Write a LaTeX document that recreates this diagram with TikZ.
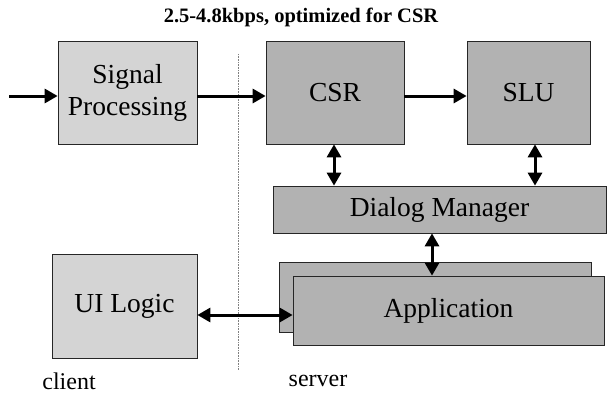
\documentclass[tikz,border=0pt]{standalone}
\usepackage{fontspec}
\setmainfont{Liberation Serif}
\usetikzlibrary{arrows.meta, positioning}

\begin{document}
\begin{tikzpicture}[x=1pt, y=-1pt, >={Triangle[length=13pt,width=14pt]},
    box/.style={draw=black!85, line width=0.7pt, rectangle, inner sep=0pt, align=center, font=\fontsize{27.5}{32}\selectfont},
    light/.style={box, fill=black!17},
    dark/.style={box, fill=black!30},
    flow/.style={->, line width=3pt},
    link/.style={<->, line width=3pt}]
    \useasboundingbox (0,0) rectangle (607,396);

    % title
    \node[font=\bfseries\fontsize{20.5}{22}\selectfont] (title) at (301,17) {2.5-4.8kbps, optimized for CSR};

    % client / server split
    \coordinate (splittop) at (238,54);
    \coordinate (splitbot) at (238,370);
    \draw[black!50, line width=0.6pt, dash pattern=on 0.8pt off 0.8pt] (splittop) -- (splitbot);

    % top row
    \node[light, minimum width=139pt, minimum height=103pt] (sp) at (127.5,92.5) {Signal\\Processing};
    \node[dark, minimum width=138pt, minimum height=103pt] (csr) at (335,92.5) {CSR};
    \node[dark, minimum width=123pt, minimum height=103pt] (slu) at (528.5,92.5) {SLU};

    % dialog manager and application
    \node[dark, minimum width=333pt, minimum height=47pt] (dm) at (439.5,209.5) {Dialog Manager};
    \node[dark, minimum width=312pt, minimum height=70pt] (appback) at (435,297) {};
    \node[dark, minimum width=311pt, minimum height=69pt] (app) at (448.5,310.5) {Application};

    % client side
    \node[light, minimum width=145pt, minimum height=104pt] (ui) at (124.5,306) {UI Logic};
    \node[font=\fontsize{24}{26}\selectfont] (client) at (69,381) {client};
    \node[font=\fontsize{24}{26}\selectfont] (server) at (318,381) {server};

    % connectors
    \coordinate (in) at (9,96);
    \draw[flow] (in) -- (in -| sp.west);
    \draw[flow] ([yshift=-3.5pt]sp.east) -- ([yshift=-3.5pt]csr.west);
    \draw[flow] ([yshift=-3.5pt]csr.east) -- ([yshift=-3.5pt]slu.west);
    \draw[link] ([xshift=-1pt]csr.south) -- ([xshift=-1pt]csr.south |- dm.north);
    \draw[link] ([xshift=6.5pt]slu.south) -- ([xshift=6.5pt]slu.south |- dm.north);
    \draw[link] ([xshift=-7.5pt]dm.south) -- ([xshift=-7.5pt]dm.south |- app.north);
    \draw[link] ([yshift=-9pt]ui.east) -- ([yshift=-9pt]ui.east -| app.west);
\end{tikzpicture}
\end{document}
